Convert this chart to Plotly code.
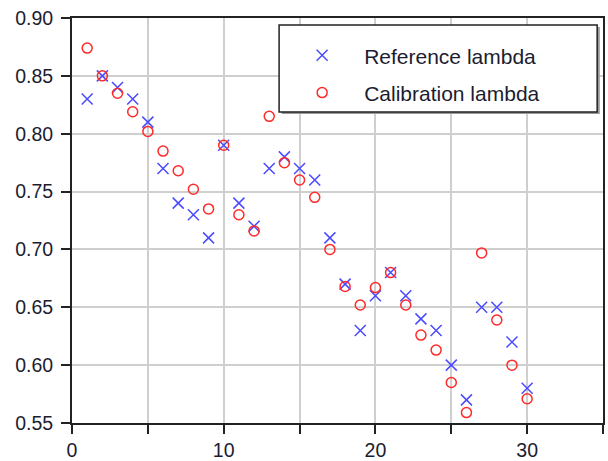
import plotly.graph_objects as go

x_vals = list(range(1, 31))
reference_lambda = [0.83, 0.85, 0.84, 0.83, 0.81, 0.77, 0.74, 0.73, 0.71, 0.79,
                    0.74, 0.72, 0.77, 0.78, 0.77, 0.76, 0.71, 0.67, 0.63, 0.66,
                    0.68, 0.66, 0.64, 0.63, 0.60, 0.57, 0.65, 0.65, 0.62, 0.58]
calibration_lambda = [0.874, 0.85, 0.835, 0.819, 0.802, 0.785, 0.768, 0.752, 0.735, 0.79,
                      0.73, 0.716, 0.815, 0.775, 0.76, 0.745, 0.70, 0.668, 0.652, 0.667,
                      0.68, 0.652, 0.626, 0.613, 0.585, 0.559, 0.697, 0.639, 0.60, 0.571]
x_tickvals = [0, 5, 10, 15, 20, 25, 30, 35]
x_ticktext = ["0", "", "10", "", "20", "", "30", ""]
y_tickvals = [0.55, 0.60, 0.65, 0.70, 0.75, 0.80, 0.85, 0.90]
y_ticktext = ["0.55", "0.60", "0.65", "0.70", "0.75", "0.80", "0.85", "0.90"]

FONT = "Liberation Sans, Arial, sans-serif"
TXT = "#1c1c30"

fig = go.Figure()
fig.add_trace(go.Scatter(
    x=x_vals, y=reference_lambda, mode="markers", name="Reference lambda",
    marker=dict(symbol="x-thin-open", size=11, color="#4a4aff",
                line=dict(width=1.5, color="#4a4aff")),
    legend="legend"))
fig.add_trace(go.Scatter(
    x=x_vals, y=calibration_lambda, mode="markers", name="Calibration lambda",
    marker=dict(symbol="circle-open", size=10, color="#ff2a2a",
                line=dict(width=1.5, color="#ff2a2a")),
    legend="legend2"))

axis_common = dict(showline=True, linecolor="#222", linewidth=2, mirror=True,
                   ticks="outside", ticklen=9, tickwidth=2, tickcolor="#222",
                   showgrid=True, gridcolor="#cfcfcf", gridwidth=2, zeroline=False,
                   automargin=False,
                   tickfont=dict(family=FONT, size=19.5, color=TXT))

fig.update_xaxes(range=[0, 35], tickvals=x_tickvals, ticktext=x_ticktext, **axis_common)
fig.update_yaxes(range=[0.55, 0.90], tickvals=y_tickvals, ticktext=y_ticktext,
                 ticklabelstandoff=4, **axis_common)

# legend frame with shadow
fig.add_shape(type="rect", xref="paper", yref="paper", x0=0.395, x1=0.994, y0=0.763, y1=0.978,
              line=dict(width=0), fillcolor="#9a9a9a", layer="above")
fig.add_shape(type="rect", xref="paper", yref="paper", x0=0.390, x1=0.989, y0=0.768, y1=0.983,
              line=dict(width=1.5, color="#222"), fillcolor="white", layer="above")

legend_common = dict(bgcolor="rgba(0,0,0,0)", borderwidth=0, itemwidth=74,
                     font=dict(family=FONT, size=21, color=TXT),
                     xanchor="left", yanchor="middle")
fig.update_layout(
    width=608, height=461,
    margin=dict(l=72, r=5, t=18, b=38),
    paper_bgcolor="white", plot_bgcolor="white",
    showlegend=True,
    legend=dict(x=0.392, y=0.907, **legend_common),
    legend2=dict(x=0.392, y=0.815, **legend_common),
)

fig.write_html("out.html")
